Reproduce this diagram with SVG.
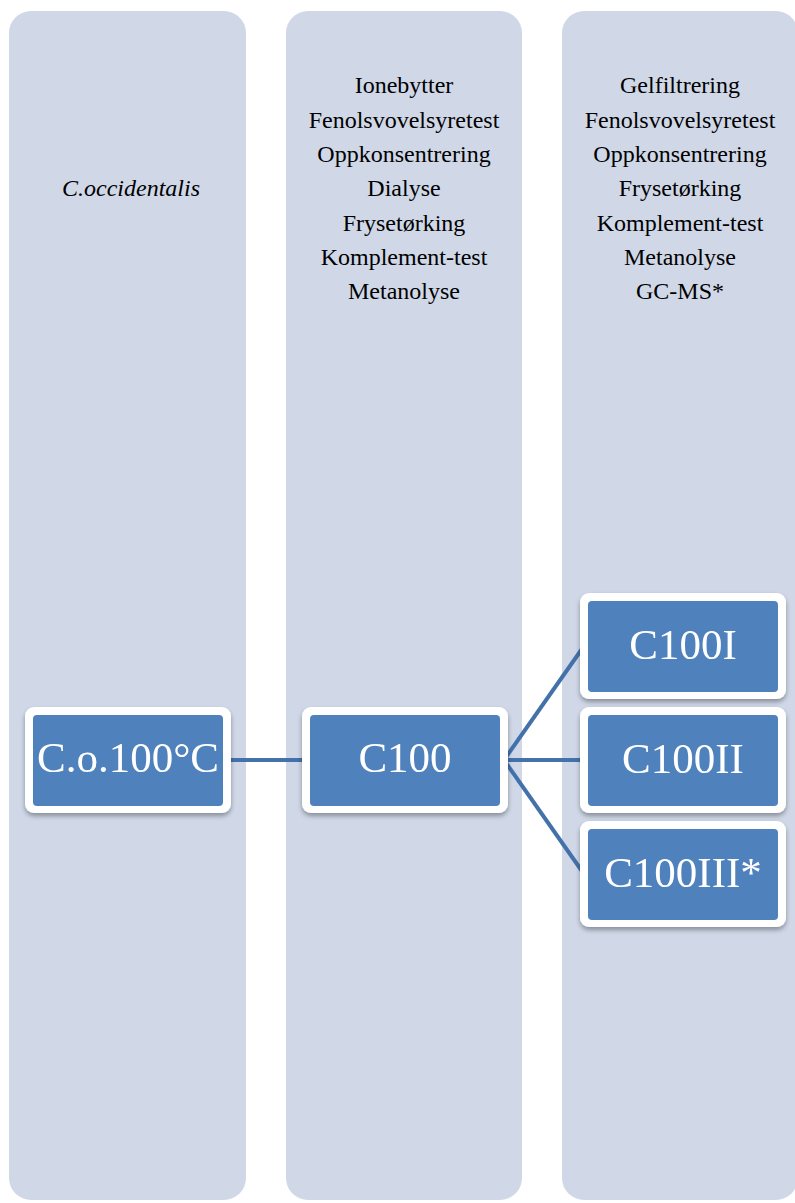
<svg xmlns="http://www.w3.org/2000/svg" width="795" height="1203" viewBox="0 0 795 1203">
  <style>
    .col { fill: #D0D8E8; }
    .outer { fill: #FFFFFF; }
    .inner { fill: #4F81BD; }
    .lbl { font-family: "Liberation Serif", "Times New Roman", serif; font-size: 43px; fill: #FFFFFF; text-anchor: middle; }
    .lst { font-family: "Liberation Serif", "Times New Roman", serif; font-size: 24px; fill: #000000; text-anchor: middle; }
    .edge { stroke: #4372AA; stroke-width: 4; fill: none; }
  </style>
  <defs>
    <filter id="shadow" x="-10%" y="-10%" width="120%" height="130%">
      <feGaussianBlur in="SourceAlpha" stdDeviation="2.5"/>
      <feOffset dx="0" dy="3" result="b"/>
      <feComponentTransfer><feFuncA type="linear" slope="0.35"/></feComponentTransfer>
      <feMerge><feMergeNode/><feMergeNode in="SourceGraphic"/></feMerge>
    </filter>
  </defs>

  <!-- column backgrounds -->
  <g id="column-1">
    <rect class="col" x="9" y="11" width="237" height="1189" rx="22"/>
    <text class="lst" x="131" y="196" font-style="italic">C.occidentalis</text>
  </g>
  <g id="column-2">
    <rect class="col" x="286" y="11" width="236" height="1189" rx="22"/>
    <text class="lst" x="404" y="93">Ionebytter</text>
    <text class="lst" x="404" y="128">Fenolsvovelsyretest</text>
    <text class="lst" x="404" y="162">Oppkonsentrering</text>
    <text class="lst" x="404" y="196">Dialyse</text>
    <text class="lst" x="404" y="231">Frysetørking</text>
    <text class="lst" x="404" y="265">Komplement-test</text>
    <text class="lst" x="404" y="299">Metanolyse</text>
  </g>
  <g id="column-3">
    <rect class="col" x="562" y="11" width="236" height="1189" rx="22"/>
    <text class="lst" x="680" y="93">Gelfiltrering</text>
    <text class="lst" x="680" y="128">Fenolsvovelsyretest</text>
    <text class="lst" x="680" y="162">Oppkonsentrering</text>
    <text class="lst" x="680" y="196">Frysetørking</text>
    <text class="lst" x="680" y="231">Komplement-test</text>
    <text class="lst" x="680" y="265">Metanolyse</text>
    <text class="lst" x="680" y="299">GC-MS*</text>
  </g>

  <!-- connectors -->
  <g id="connectors">
    <line class="edge" x1="226" y1="760" x2="306" y2="760"/>
    <line class="edge" x1="504" y1="760" x2="584" y2="646"/>
    <line class="edge" x1="504" y1="760" x2="584" y2="760"/>
    <line class="edge" x1="504" y1="760" x2="584" y2="874"/>
  </g>

  <!-- nodes -->
  <g id="node-co100" filter="url(#shadow)">
    <rect class="outer" x="25" y="707" width="206" height="106" rx="9"/>
    <rect class="inner" x="33" y="715" width="190" height="91" rx="4"/>
    <text class="lbl" x="128" y="772">C.o.100°C</text>
  </g>
  <g id="node-c100" filter="url(#shadow)">
    <rect class="outer" x="302" y="707" width="206" height="106" rx="9"/>
    <rect class="inner" x="310" y="715" width="190" height="91" rx="4"/>
    <text class="lbl" x="405" y="772">C100</text>
  </g>
  <g id="node-c100i" filter="url(#shadow)">
    <rect class="outer" x="580" y="593" width="206" height="106" rx="9"/>
    <rect class="inner" x="588" y="601" width="190" height="91" rx="4"/>
    <text class="lbl" x="683" y="659">C100I</text>
  </g>
  <g id="node-c100ii" filter="url(#shadow)">
    <rect class="outer" x="580" y="707" width="206" height="106" rx="9"/>
    <rect class="inner" x="588" y="715" width="190" height="91" rx="4"/>
    <text class="lbl" x="683" y="773">C100II</text>
  </g>
  <g id="node-c100iii" filter="url(#shadow)">
    <rect class="outer" x="580" y="821" width="206" height="106" rx="9"/>
    <rect class="inner" x="588" y="829" width="190" height="91" rx="4"/>
    <text class="lbl" x="683" y="887">C100III*</text>
  </g>
</svg>
